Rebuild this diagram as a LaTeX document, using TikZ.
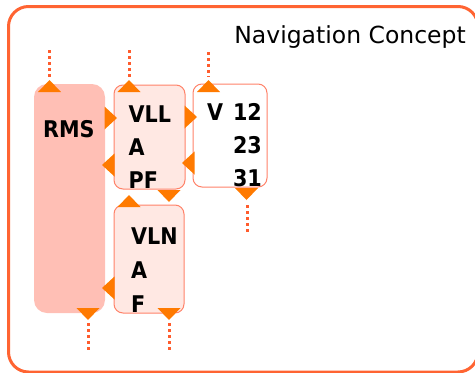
\documentclass[tikz,border=0pt]{standalone}
\usepackage{fontspec}
\setmainfont{DejaVu Sans}
\newfontfamily\labelfont{DejaVu Sans Condensed}
\definecolor{frameC}{RGB}{255,100,50}
\definecolor{triC}{RGB}{255,122,0}
\definecolor{dotC}{RGB}{255,92,45}
\definecolor{boxline}{RGB}{255,130,105}
\definecolor{boxfill}{RGB}{255,232,227}
\definecolor{rmsfill}{RGB}{255,191,181}
\tikzset{
  frame/.style={draw=frameC, line width=3pt, rounded corners=20pt},
  rmsbox/.style={fill=rmsfill, rounded corners=13pt},
  vbox/.style={draw=boxline, line width=1pt, rounded corners=9pt},
  tri/.style={fill=triC},
  dotline/.style={draw=dotC, line width=3pt, dash pattern=on 3pt off 3pt},
  lbl/.style={anchor=base west, inner sep=0pt, font=\labelfont\bfseries\fontsize{23}{23}\selectfont},
  lblr/.style={lbl, anchor=base east},
}
\newcommand\triU[2]{\fill[tri, shift={(#1,#2)}] (-11.5,12) -- (0,0) -- (11.5,12) -- cycle;}
\newcommand\triD[2]{\fill[tri, shift={(#1,#2)}] (-11.5,-12) -- (0,0) -- (11.5,-12) -- cycle;}
\newcommand\triR[2]{\fill[tri, shift={(#1,#2)}] (-12.5,-11.5) -- (0,0) -- (-12.5,11.5) -- cycle;}
\newcommand\triL[2]{\fill[tri, shift={(#1,#2)}] (12.5,-11.5) -- (0,0) -- (12.5,11.5) -- cycle;}
\begin{document}
\begin{tikzpicture}[x=1pt, y=-1pt]
\useasboundingbox (0,0) rectangle (475,373);
% outer frame
\draw[frame] (8.5,6.5) rectangle (478,372);
\node[anchor=base east, inner sep=0pt, font=\fontsize{23.5}{23.5}\selectfont] (title) at (466,43) {Navigation Concept};
% boxes
\path[rmsbox] (34,84) rectangle (105,313);
\node[inner sep=0pt, minimum width=71pt, minimum height=229pt] (rms) at (69.5,198.5) {};
\node[vbox, fill=boxfill, inner sep=0pt, minimum width=71pt, minimum height=104pt] (vll) at (149.5,137) {};
\node[vbox, fill=white, inner sep=0pt, minimum width=74pt, minimum height=103pt] (vv) at (230,135.5) {};
\node[vbox, fill=boxfill, inner sep=0pt, minimum width=70pt, minimum height=108pt] (vln) at (149,259) {};
% labels
\node[lbl] (trms) at (43,137) {RMS};
\node[lbl] (t1) at (128.5,122) {VLL};
\node[lbl] (t2) at (128.5,155) {A};
\node[lbl] (t3) at (128.5,188) {PF};
\node[lbl] (tv) at (207,120) {V};
\node[lblr] (n1) at (262,120) {12};
\node[lblr] (n2) at (262,153) {23};
\node[lblr] (n3) at (262,186) {31};
\node[lbl] (u1) at (131,244) {VLN};
\node[lbl] (u2) at (131,278) {A};
\node[lbl] (u3) at (131,312) {F};
% dotted leads
\coordinate (d1a) at (49,50);  \coordinate (d1b) at (49,77);
\coordinate (d2a) at (129,50); \coordinate (d2b) at (129,77);
\coordinate (d3a) at (208,52); \coordinate (d3b) at (208,77);
\coordinate (d4a) at (88,323); \coordinate (d4b) at (88,350);
\coordinate (d5a) at (169,323); \coordinate (d5b) at (169,350);
\coordinate (d6a) at (247,205); \coordinate (d6b) at (247,232);
\draw[dotline] (d1a) -- (d1b);
\draw[dotline] (d2a) -- (d2b);
\draw[dotline] (d3a) -- (d3b);
\draw[dotline] (d4a) -- (d4b);
\draw[dotline] (d5a) -- (d5b);
\draw[dotline] (d6a) -- (d6b);
% triangles
\triU{49.5}{80}
\triU{129}{80}
\triU{208.5}{80}
\triR{117}{118}
\triL{102}{165}
\triR{197}{117}
\triL{182}{163}
\triD{169}{202}
\triU{129}{195}
\triL{102}{288}
\triD{88}{320}
\triD{169}{320}
\triD{246.5}{200}
\end{tikzpicture}
\end{document}
